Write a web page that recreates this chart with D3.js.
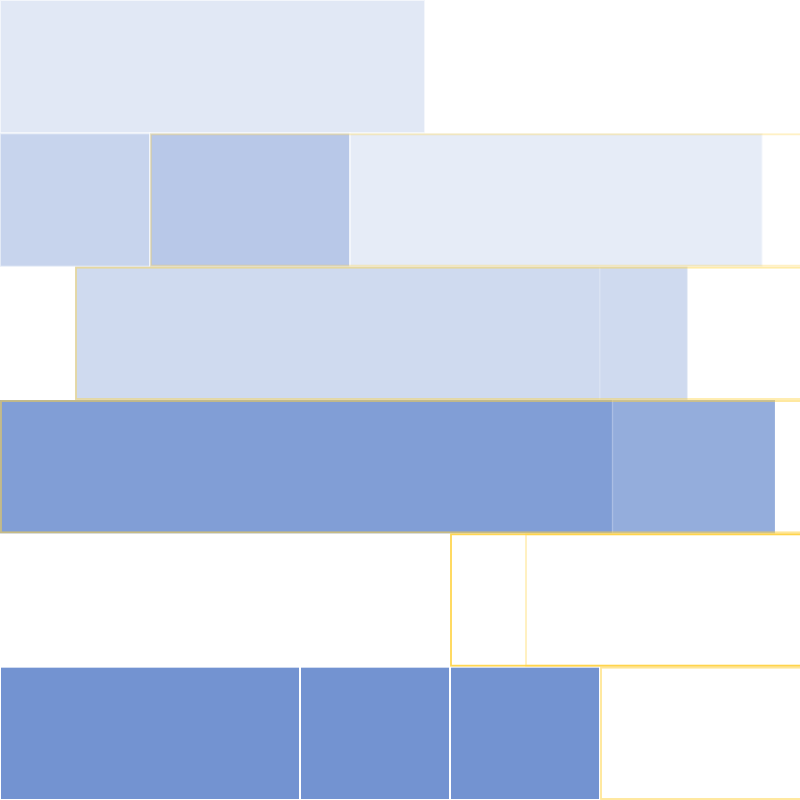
<!DOCTYPE html>
<html>
<head>
<meta charset="utf-8">
<script src="https://cdn.jsdelivr.net/npm/d3@7/dist/d3.min.js"></script>
<style>
  html, body { margin: 0; padding: 0; background: #ffffff; }
  svg { display: block; }
</style>
</head>
<body>
<svg id="chart" width="800" height="800"></svg>
<script>
// Rows (categories), top to bottom
const categories = ["A", "B", "C", "D", "E", "F"];

// Blue segments: row, start, end, fill opacity, edge opacity
const blueRow = ["A", "B", "B", "B", "C", "C", "D", "D", "F", "F", "F"];
const blueStart = [0, 0, 6, 14, 3, 24, 0, 24.5, 0, 12, 18];
const blueEnd = [17, 6, 14, 30.5, 24, 27.5, 24.5, 31, 12, 18, 24];
const blueFill = [0.21, 0.40, 0.51, 0.18, 0.34, 0.34, 0.90, 0.76, 1, 1, 1];
const blueEdge = [0.6, 0.5, 0.5, 0.5, 0.12, 0.12, 0.05, 0.08, 1, 1, 1];

// Yellow (open-ended) segments: row, start, edge opacity
const goldRow = ["B", "C", "D", "E", "E", "F"];
const goldStart = [6, 3, 0, 18, 21, 24];
const goldEdge = [0.3, 0.45, 0.55, 0.9, 0.35, 0.55];
const goldEnd = 34;

const blue = blueRow.map((r, i) => ({row: r, start: blueStart[i], end: blueEnd[i], fo: blueFill[i], so: blueEdge[i]}));
const gold = goldRow.map((r, i) => ({row: r, start: goldStart[i], end: goldEnd, so: goldEdge[i]}));

const W = 800, H = 800;
const svg = d3.select("#chart");
const x = d3.scaleLinear().domain([0, 32]).range([0, W]);
const y = d3.scaleBand().domain(categories).range([0, H]).padding(0);

svg.append("g").selectAll("rect").data(blue).join("rect")
  .attr("x", d => x(d.start))
  .attr("y", d => y(d.row))
  .attr("width", d => x(d.end) - x(d.start))
  .attr("height", y.bandwidth())
  .attr("fill", "#7393d1")
  .attr("fill-opacity", d => d.fo)
  .attr("stroke", "#ffffff")
  .attr("stroke-opacity", d => d.so)
  .attr("stroke-width", 2);

svg.append("g").selectAll("rect").data(gold).join("rect")
  .attr("x", d => x(d.start) + 1)
  .attr("y", d => y(d.row) + 1)
  .attr("width", d => x(d.end) - x(d.start) - 2)
  .attr("height", y.bandwidth() - 2)
  .attr("fill", "none")
  .attr("stroke", "#ffd23f")
  .attr("stroke-opacity", d => d.so)
  .attr("stroke-width", 1.8);
</script>
</body>
</html>
